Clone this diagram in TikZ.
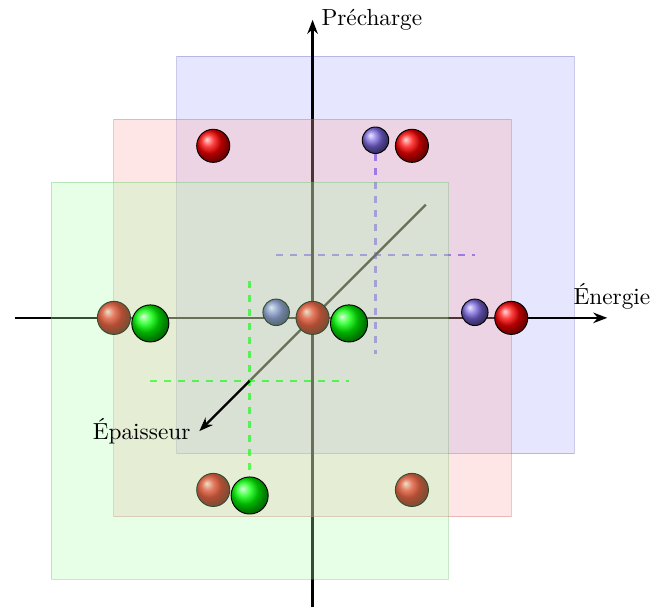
\documentclass[tikz,border=0pt]{standalone}
\usepackage{fontspec}
\usetikzlibrary{arrows.meta}
\definecolor{violette}{RGB}{125,105,225}
\definecolor{violetclair}{RGB}{120,100,255}
\begin{document}
\begin{tikzpicture}[line join=round, >={Stealth[length=6pt, width=4.5pt]},
	3dview/.style={x={(1cm,0cm)}, y={(0cm,1cm)}, z={(-0.95cm,-0.95cm)}},3dview,
	plan/.style={fill=#1!33, draw=#1!40!gray, opacity=0.3},
	axe/.style={line width=1pt},
	pointille/.style={line width=1.1pt, dashed},
	bille/.style={ball color=#1, draw=black, thin}]
	\useasboundingbox (-4.72,-4.48) rectangle (5.11,4.8);
	% plan du fond
	\filldraw[plan=blue] (-3, -3, -1) rectangle (3, 3, -1);
	\draw[pointille, violetclair] (-1.5, 0, -1) -- (1.5, 0, -1);
	\draw[pointille, violetclair] (0, 1.732, -1) -- (0, -1.5, -1);
	% axes
	\draw[axe, ->] (-4.5, 0, 0) -- (4.45, 0, 0) node[above, xshift=2pt] (ene) {Énergie};
	\draw[axe, ->] (0, -4.37, 0) -- (0, 4.5, 0) node[right] (pre) {Précharge};
	\draw[axe] (0, 0, -1.8) -- (0, 0, 1);
	% plan du milieu
	\filldraw[plan=red] (-3, -3, 0) rectangle (3, 3, 0);
	\shadedraw[bille=violette] (0, 1.732, -1) circle (0.2);
	\shadedraw[bille=violette] (-1.5, -0.866, -1) circle (0.2);
	\shadedraw[bille=violette] (1.5, -0.866, -1) circle (0.2);
	\shadedraw[bille=red] (0, 0, 0) circle (0.25);
	\shadedraw[bille=red] (3, 0, 0) circle (0.25);
	\shadedraw[bille=red] (-3, 0, 0) circle (0.25);
	\shadedraw[bille=red] (1.5, 2.598, 0) circle (0.25);
	\shadedraw[bille=red] (-1.5, 2.598, 0) circle (0.25);
	\shadedraw[bille=red] (1.5, -2.598, 0) circle (0.25);
	\shadedraw[bille=red] (-1.5, -2.598, 0) circle (0.25);
	% plan de devant
	\filldraw[plan=green] (-3, -3, 1) rectangle (3, 3, 1);
	\draw[pointille, green, opacity=0.6] (-1.5, 0, 1) -- (1.5, 0, 1);
	\draw[pointille, green, opacity=0.6] (0, 1.5, 1) -- (0, -1.732, 1);
	\shadedraw[bille=green] (-1.5, 0.866, 1) circle (0.28);
	\shadedraw[bille=green] (1.5, 0.866, 1) circle (0.28);
	\shadedraw[bille=green] (0, -1.732, 1) circle (0.28);
	\draw[axe, ->] (0, 0, 1) -- (0, 0, 1.8) node[left] (epa) {Épaisseur};
\end{tikzpicture}
\end{document}
